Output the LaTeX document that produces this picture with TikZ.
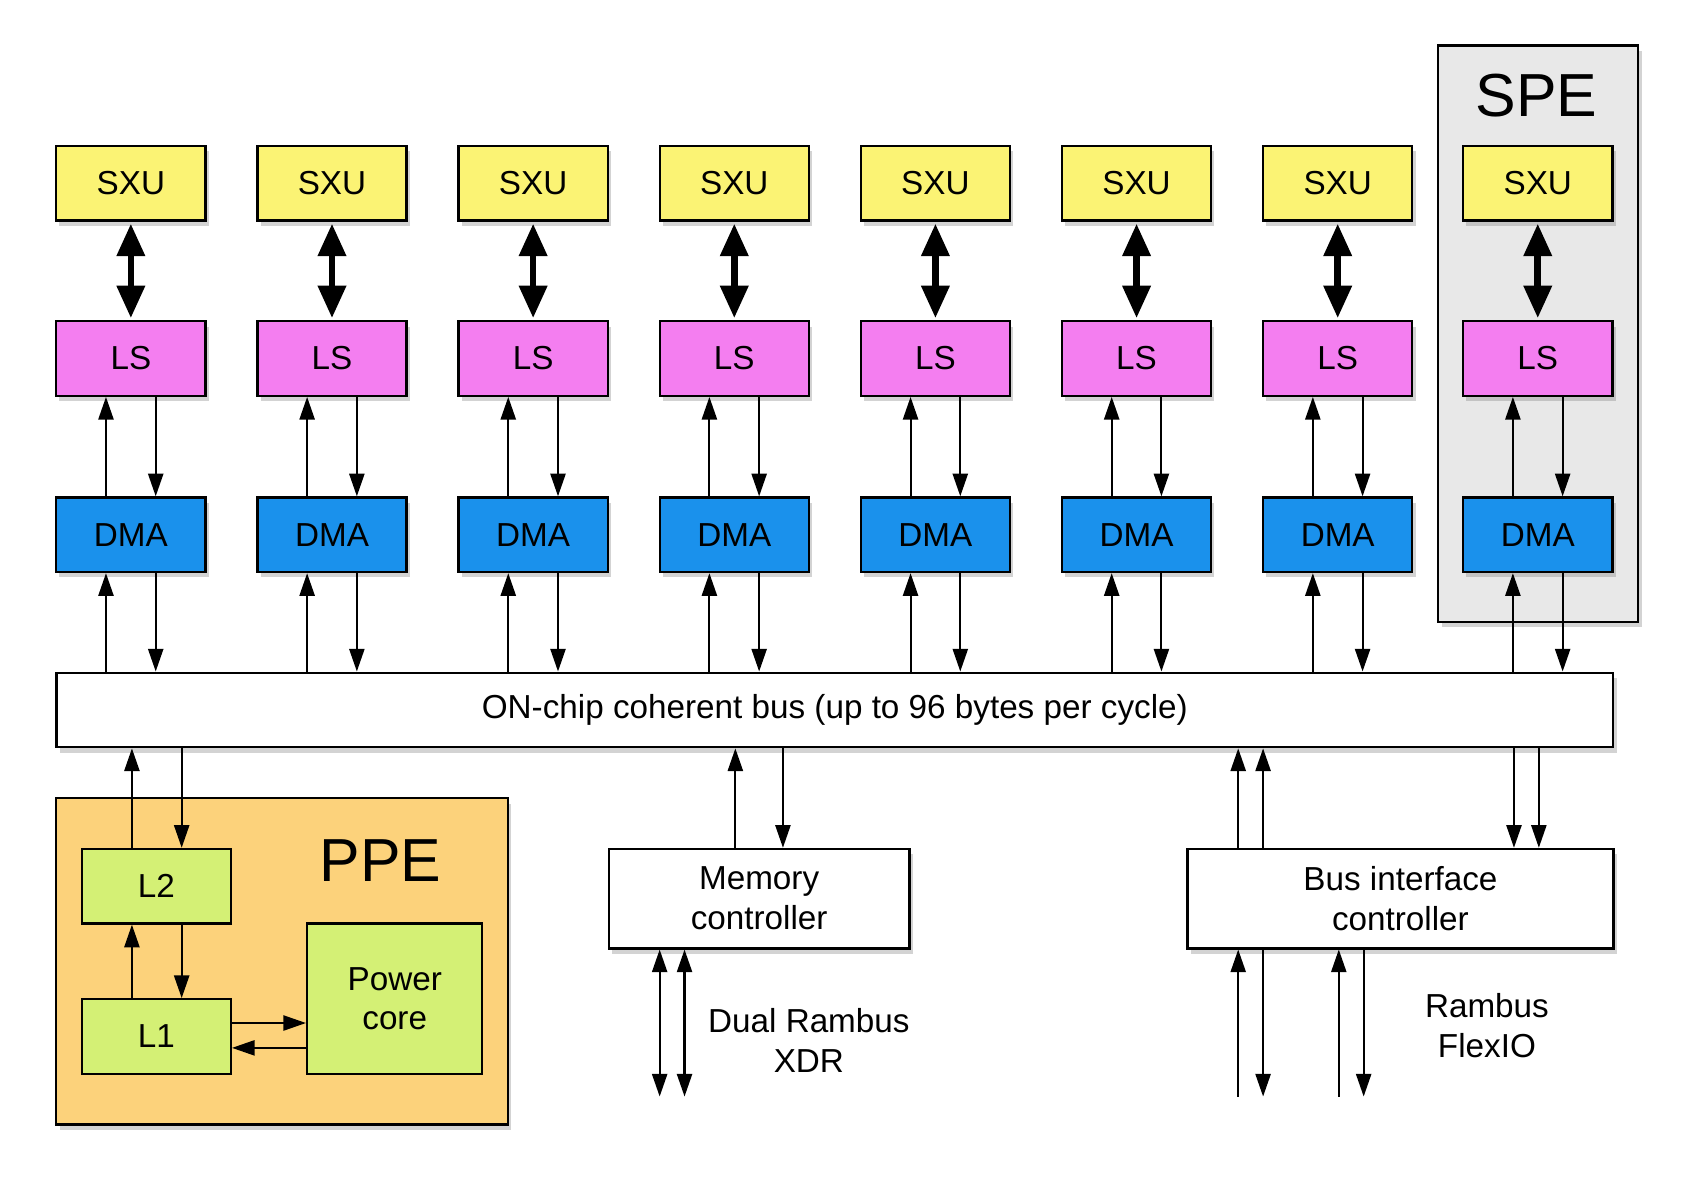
\documentclass[tikz,border=0pt]{standalone}
\usepackage{fontspec}
\setmainfont{Liberation Sans}
\usetikzlibrary{shadows,arrows.meta}
\definecolor{sxu}{HTML}{FBF374}
\definecolor{ls}{HTML}{F47EF0}
\definecolor{dma}{HTML}{1A91EC}
\definecolor{ppe}{HTML}{FCD27B}
\definecolor{grn}{HTML}{D4F075}
\definecolor{spe}{HTML}{E8E8E8}
\begin{document}
\begin{tikzpicture}[x=0.02cm,y=-0.02cm,
  box/.style={draw,line width=1.2pt,minimum width=2.76cm,minimum height=1.38cm,inner sep=0pt,font=\fontsize{17.5}{21}\selectfont,align=center},
  sh/.style={drop shadow={shadow xshift=0.06cm,shadow yshift=-0.1cm,opacity=0.35}},
  ta/.style={line width=1.1pt,-{Triangle[length=0.42cm,width=0.28cm]}},
  tb/.style={line width=1.1pt,{Triangle[length=0.42cm,width=0.28cm]}-{Triangle[length=0.42cm,width=0.28cm]}},
  thick2/.style={line width=3.5pt,{Triangle[length=0.6cm,width=0.5cm]}-{Triangle[length=0.6cm,width=0.5cm]},shorten <=1pt,shorten >=1pt},
  lbl/.style={font=\fontsize{17.5}{21}\selectfont,align=center}]
\useasboundingbox (0,0) rectangle (1560,1098);
% SPE background
\node[draw,line width=1.2pt,fill=spe,sh,minimum width=3.7cm,minimum height=10.66cm,inner sep=0pt] (spe) at (1422.5,308.5) {};
\node[font=\fontsize{32}{36}\selectfont] (spel) at (1421,88) {SPE};
% columns
\foreach \i/\x in {1/121,2/307,3/493,4/679,5/865,6/1051,7/1237,8/1422}{
  \node[box,fill=sxu,sh] (s\i) at (\x,169.5) {SXU};
  \node[box,fill=ls,sh] (l\i) at (\x,331.5) {LS};
  \node[box,fill=dma,sh] (d\i) at (\x,494.5) {DMA};
}
% bus
\node[box,fill=white,sh,minimum width=28.8cm] (bus) at (772,656.5) {ON-chip coherent bus (up to 96 bytes per cycle)};
\foreach \i in {1,...,8}{
  \draw[thick2] (s\i) -- (l\i);
  \path ([xshift=-0.46cm]d\i.north) coordinate (u\i) ([xshift=0.46cm]d\i.north) coordinate (v\i)
        ([xshift=-0.46cm]d\i.south) coordinate (p\i) ([xshift=0.46cm]d\i.south) coordinate (q\i);
  \draw[ta] (u\i) -- (l\i.south -| u\i);
  \draw[ta] (l\i.south -| v\i) -- (v\i);
  \draw[ta] (bus.north -| p\i) -- (p\i);
  \draw[ta] (q\i) -- (bus.north -| q\i);
}
% PPE
\node[draw,line width=1.2pt,fill=ppe,sh,minimum width=8.36cm,minimum height=6.04cm,inner sep=0pt] (ppe) at (261,889) {};
\node[font=\fontsize{32}{36}\selectfont] (ppel) at (352,796) {PPE};
\node[box,fill=grn] (l2) at (144.5,819.5) {L2};
\node[box,fill=grn] (l1) at (144.5,958.5) {L1};
\node[box,fill=grn,minimum width=3.24cm,minimum height=2.78cm] (pc) at (365,923.5) {Power\\core};
\coordinate (a1) at (122,0); \coordinate (a2) at (168,0);
\draw[ta] (l2.north -| a1) -- (bus.south -| a1);
\draw[ta] (bus.south -| a2) -- (l2.north -| a2);
\draw[ta] (l1.north -| a1) -- (l2.south -| a1);
\draw[ta] (l2.south -| a2) -- (l1.north -| a2);
\coordinate (b1) at (0,946); \coordinate (b2) at (0,969);
\draw[ta] (l1.east |- b1) -- (pc.west |- b1);
\draw[ta] (pc.west |- b2) -- (l1.east |- b2);
% memory controller
\node[box,fill=white,sh,minimum width=5.56cm,minimum height=1.84cm] (mc) at (702,831) {Memory\\controller};
\coordinate (m1) at (680,0); \coordinate (m2) at (724,0);
\draw[ta] (mc.north -| m1) -- (bus.south -| m1);
\draw[ta] (bus.south -| m2) -- (mc.north -| m2);
\coordinate (x1) at (610,1014); \coordinate (x2) at (633,1014);
\draw[tb] (mc.south -| x1) -- (x1);
\draw[tb] (mc.south -| x2) -- (x2);
\node[lbl] (xdr) at (748,962) {Dual Rambus\\XDR};
% bus interface controller
\node[box,fill=white,sh,minimum width=7.88cm,minimum height=1.84cm] (bic) at (1295,831) {Bus interface\\controller};
\coordinate (c1) at (1145,0); \coordinate (c2) at (1168,0);
\coordinate (c3) at (1400,0); \coordinate (c4) at (1423,0);
\draw[ta] (bic.north -| c1) -- (bus.south -| c1);
\draw[ta] (bic.north -| c2) -- (bus.south -| c2);
\draw[ta] (bus.south -| c3) -- (bic.north -| c3);
\draw[ta] (bus.south -| c4) -- (bic.north -| c4);
\coordinate (f1) at (1145,1014); \coordinate (f2) at (1168,1014);
\coordinate (f3) at (1238,1014); \coordinate (f4) at (1261,1014);
\draw[ta] (f1) -- (bic.south -| f1);
\draw[ta] (bic.south -| f2) -- (f2);
\draw[ta] (f3) -- (bic.south -| f3);
\draw[ta] (bic.south -| f4) -- (f4);
\node[lbl] (flex) at (1375,948) {Rambus\\FlexIO};
\end{tikzpicture}
\end{document}
